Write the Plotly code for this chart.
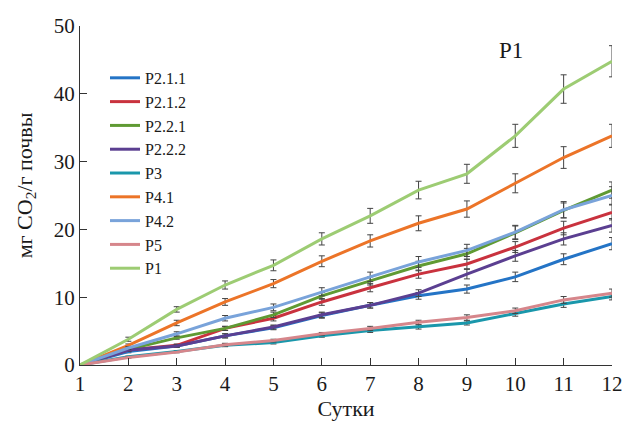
import plotly.graph_objects as go

days = [1, 2, 3, 4, 5, 6, 7, 8, 9, 10, 11, 12]

p211 = [0, 2.0, 2.8, 4.3, 5.5, 7.3, 8.8, 10.2, 11.2, 13.0, 15.6, 17.9]
p212 = [0, 2.2, 2.9, 5.4, 6.9, 9.3, 11.4, 13.4, 14.9, 17.4, 20.2, 22.5]
p221 = [0, 2.3, 4.0, 5.4, 7.4, 10.2, 12.4, 14.6, 16.4, 19.5, 22.8, 25.8]
p222 = [0, 2.2, 2.8, 4.3, 5.6, 7.4, 8.8, 10.6, 13.4, 16.1, 18.6, 20.6]
p3 = [0, 1.2, 2.0, 2.9, 3.3, 4.3, 5.1, 5.6, 6.2, 7.6, 9.0, 10.1]
p41 = [0, 2.9, 6.2, 9.3, 12.0, 15.3, 18.3, 20.9, 23.0, 26.8, 30.6, 33.8]
p42 = [0, 2.5, 4.6, 6.9, 8.5, 10.8, 13.0, 15.2, 16.9, 19.6, 22.9, 25.0]
p5 = [0, 1.1, 1.9, 3.0, 3.6, 4.6, 5.4, 6.3, 7.0, 8.0, 9.6, 10.6]
p1 = [0, 3.8, 8.2, 11.8, 14.7, 18.6, 22.0, 25.8, 28.2, 33.8, 40.7, 44.8]

e211 = [0, 0.2, 0.2, 0.3, 0.3, 0.4, 0.4, 0.5, 0.6, 0.7, 0.8, 0.9]
e212 = [0, 0.2, 0.2, 0.3, 0.4, 0.5, 0.6, 0.6, 0.7, 0.8, 1.0, 1.1]
e221 = [0, 0.2, 0.2, 0.3, 0.4, 0.5, 0.6, 0.7, 0.8, 1.0, 1.1, 1.2]
e222 = [0, 0.2, 0.2, 0.3, 0.3, 0.4, 0.4, 0.5, 0.7, 0.8, 0.9, 1.0]
e3 = [0, 0.1, 0.1, 0.2, 0.2, 0.2, 0.3, 0.3, 0.3, 0.4, 0.5, 0.5]
e41 = [0, 0.2, 0.4, 0.5, 0.6, 0.8, 0.9, 1.1, 1.2, 1.4, 1.6, 1.7]
e42 = [0, 0.2, 0.3, 0.4, 0.5, 0.6, 0.7, 0.8, 0.9, 1.0, 1.2, 1.3]
e5 = [0, 0.1, 0.1, 0.2, 0.2, 0.2, 0.3, 0.3, 0.4, 0.4, 0.5, 0.6]
e1 = [0, 0.3, 0.4, 0.6, 0.8, 0.9, 1.1, 1.3, 1.4, 1.7, 2.1, 2.3]

names = ["P2.1.1", "P2.1.2", "P2.2.1", "P2.2.2", "P3", "P4.1", "P4.2", "P5", "P1"]
series = [p211, p212, p221, p222, p3, p41, p42, p5, p1]
errors = [e211, e212, e221, e222, e3, e41, e42, e5, e1]
colors = ["#2474c6", "#c9323e", "#5f9a33", "#5b3f91", "#1a97ab",
          "#ec7428", "#79a3da", "#d6868b", "#9dcc73"]

font_family = "'Liberation Serif', 'Times New Roman', Times, serif"

fig = go.Figure()
for name, ys, es, c in zip(names, series, errors, colors):
    fig.add_trace(go.Scatter(
        x=days, y=ys, name=name, mode="lines",
        line=dict(color=c, width=3),
        error_y=dict(type="data", array=es, visible=True,
                     color="#444444", thickness=1, width=3),
    ))

fig.update_layout(
    width=627, height=423,
    margin=dict(l=80, r=15, t=26, b=58, autoexpand=False),
    paper_bgcolor="white", plot_bgcolor="white",
    font=dict(family=font_family, color="#1a1a1a", size=20),
    showlegend=True,
    legend=dict(x=0.047, y=0.897, xanchor="left", yanchor="top",
                bgcolor="rgba(0,0,0,0)", font=dict(size=16, family=font_family),
                itemwidth=30, tracegroupgap=0),
    annotations=[
        dict(text="P1", x=0.81, y=0.929, xref="paper", yref="paper",
             xanchor="center", yanchor="middle",
             showarrow=False, font=dict(size=23, family=font_family)),
        dict(text="мг CO<sub>2</sub>/г почвы", x=-0.1015, y=0.53,
             xref="paper", yref="paper", xanchor="center", yanchor="middle",
             textangle=-90, showarrow=False,
             font=dict(size=22, family=font_family)),
    ],
)
fig.update_xaxes(range=[1, 12], dtick=1, tick0=1, ticks="inside", ticklen=7,
                 tickcolor="#333", showline=True, linecolor="#333", linewidth=1,
                 showgrid=False, zeroline=False, automargin=False,
                 tickfont=dict(size=21, family=font_family),
                 title=dict(text="Сутки", font=dict(size=22, family=font_family), standoff=2))
fig.update_yaxes(range=[0, 50], dtick=10, ticks="inside", ticklen=7,
                 tickcolor="#333", showline=True, linecolor="#333", linewidth=1,
                 showgrid=False, zeroline=False, automargin=False,
                 tickfont=dict(size=21, family=font_family))

fig.write_html("out.html", config={"displayModeBar": False},
               post_script="document.body.style.margin='0';")
